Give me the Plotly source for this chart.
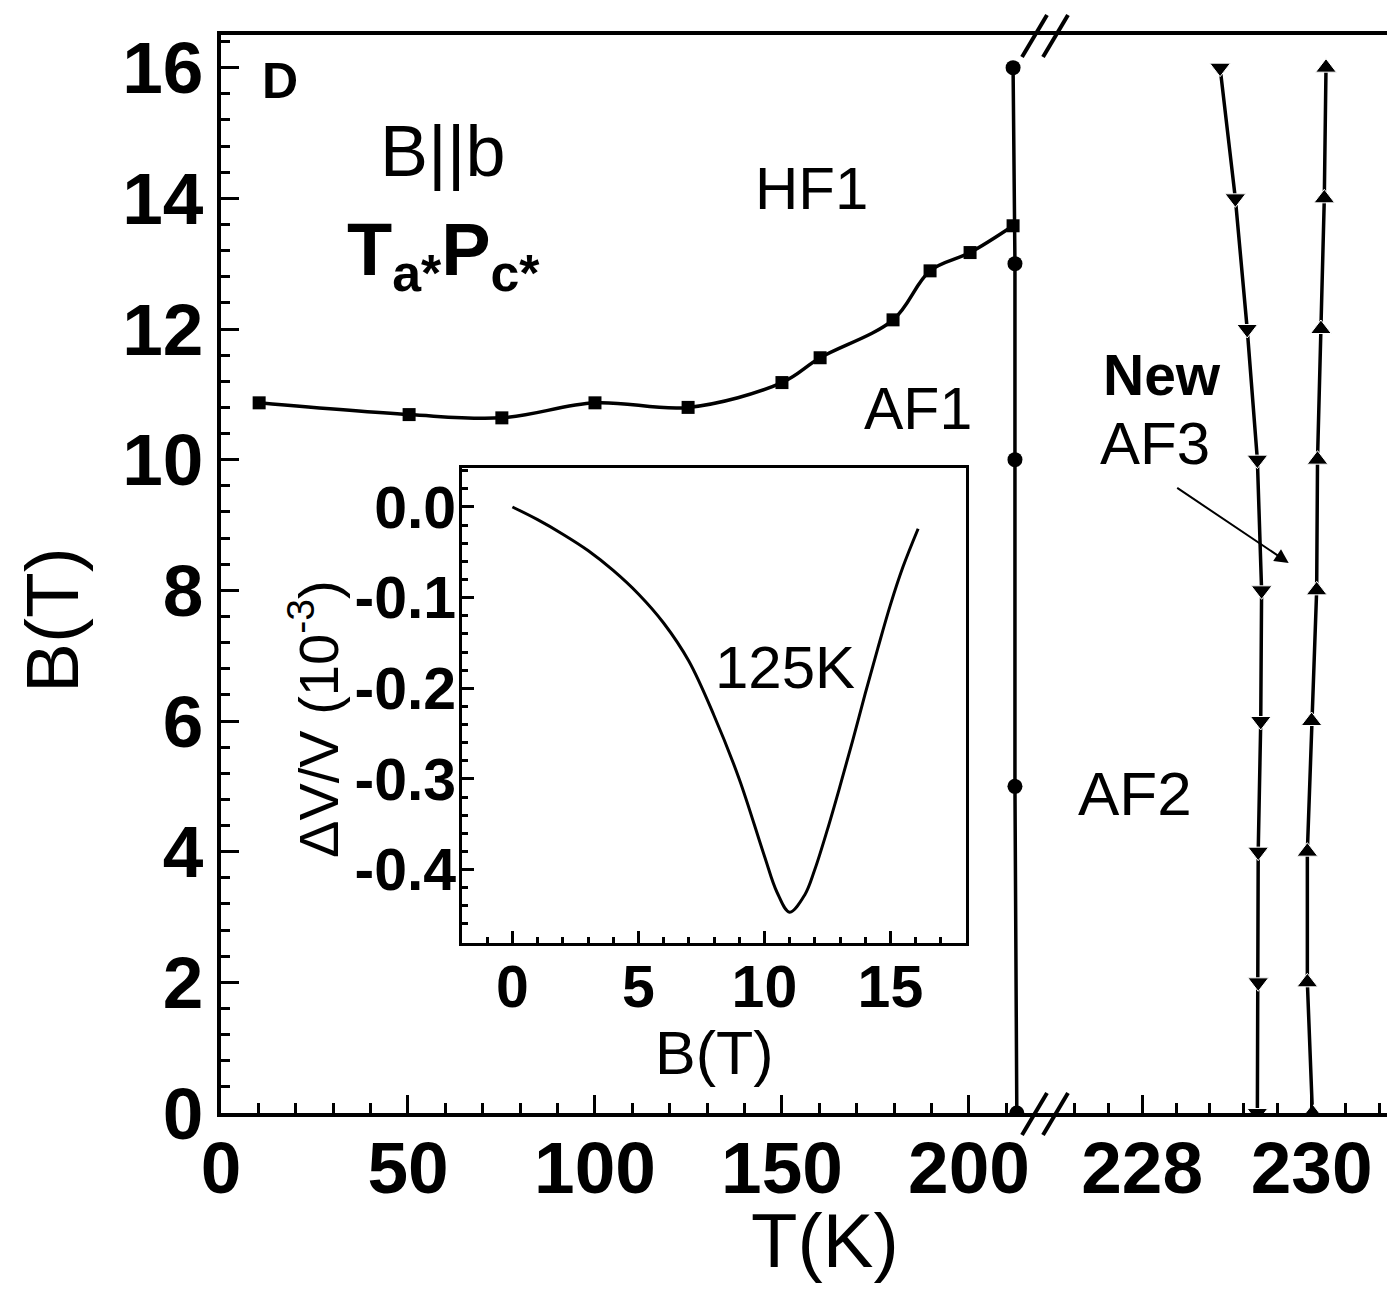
import plotly.graph_objects as go

# ---------------- data ----------------
# HF1 / AF1 boundary (squares)
sq_T = [10.2, 50.3, 75.1, 100.0, 124.9, 150.0, 160.2, 179.7, 189.6, 200.3, 211.8]
sq_B = [10.87, 10.69, 10.64, 10.87, 10.80, 11.18, 11.56, 12.14, 12.89, 13.17, 13.58]
# AF1 / AF2 boundary (circles)
ci_T = [212.8, 212.3, 212.3, 212.3, 211.8]
ci_B = [0, 5, 10, 13, 16]
# AF2 / AF3 boundary (down triangles)
dn_T = [229.36, 229.37, 229.37, 229.40, 229.41, 229.36, 229.24, 229.10, 228.92]
dn_B = [0, 2, 4, 6, 8, 10, 12, 14, 16]
# AF3 / paramagnetic boundary (up triangles)
up_T = [230.01, 229.95, 229.95, 230.00, 230.06, 230.07, 230.11, 230.15, 230.17]
up_B = [0, 2, 4, 6, 8, 10, 12, 14, 16]
# inset: dV/V at 125 K
in_B = [0, 1, 2, 3, 4, 5, 6, 7, 8, 9, 10, 10.5, 11.0, 11.6, 12.0, 12.5,
        13.0, 13.5, 14.0, 14.5, 15.0, 15.5, 16.1]
in_V = [0, -0.014, -0.030, -0.048, -0.070, -0.096, -0.128, -0.170, -0.230,
        -0.300, -0.385, -0.425, -0.447, -0.428, -0.400, -0.356, -0.308,
        -0.258, -0.206, -0.156, -0.108, -0.066, -0.024]

left_ticks = [0, 50, 100, 150, 200]
right_ticks = [228, 230]
y_ticks = [0, 2, 4, 6, 8, 10, 12, 14, 16]
inset_x_ticks = [0, 5, 10, 15]
inset_y_ticks = [0.0, -0.1, -0.2, -0.3, -0.4]
inset_y_labels = ["0.0", "-0.1", "-0.2", "-0.3", "-0.4"]

# ---------------- layout geometry (pixels) ----------------
W, H = 1387, 1291
L, R, T, B = 221, 1387, 35, 1113
PW, PH = R - L, B - T
BREAK = 1043


def px(x):
    return (x - L) / PW


def py(y):
    return (B - y) / PH


FONT = "Liberation Sans, Arial, sans-serif"
BLACK = "black"

fig = go.Figure()

fig.add_trace(go.Scatter(
    x=sq_T, y=sq_B, mode="lines+markers", xaxis="x", yaxis="y",
    line=dict(color=BLACK, width=3.5, shape="spline", smoothing=1.0),
    marker=dict(symbol="square", size=13, color=BLACK)))
fig.add_trace(go.Scatter(
    x=ci_T, y=ci_B, mode="lines+markers", xaxis="x", yaxis="y",
    line=dict(color=BLACK, width=3.5),
    marker=dict(symbol="circle", size=15, color=BLACK)))
fig.add_trace(go.Scatter(
    x=dn_T, y=dn_B, mode="lines+markers", xaxis="x2", yaxis="y",
    line=dict(color=BLACK, width=3.5),
    marker=dict(symbol="triangle-down", size=18, color=BLACK,
                line=dict(color="white", width=1))))
fig.add_trace(go.Scatter(
    x=up_T, y=up_B, mode="lines+markers", xaxis="x2", yaxis="y",
    line=dict(color=BLACK, width=3.5),
    marker=dict(symbol="triangle-up", size=18, color=BLACK,
                line=dict(color="white", width=1))))
fig.add_trace(go.Scatter(
    x=in_B, y=in_V, mode="lines", xaxis="x3", yaxis="y3",
    line=dict(color=BLACK, width=3, shape="spline", smoothing=1.0)))

tickfont_main = dict(size=73, family=FONT, color=BLACK, weight="bold")
tickfont_in = dict(size=59, family=FONT, color=BLACK, weight="bold")


def minor(d, ln):
    return dict(dtick=d, ticks="inside", ticklen=ln, tickwidth=3,
                tickcolor=BLACK, showgrid=False)


common = dict(showline=True, linewidth=4, linecolor=BLACK, ticks="inside",
              tickwidth=3, tickcolor=BLACK, showgrid=False, zeroline=False)

fig.update_layout(
    width=W, height=H,
    margin=dict(l=L, r=W - R, t=T, b=H - B),
    paper_bgcolor="white", plot_bgcolor="white",
    showlegend=False,
    xaxis=dict(domain=[0, px(BREAK)], range=[0, 219.8], anchor="y",
               mirror=True, ticklen=18, tickvals=left_ticks,
               minor=minor(10, 10), tickfont=tickfont_main,
               ticklabelstandoff=-12, **common),
    xaxis2=dict(domain=[px(BREAK), 1], range=[226.83, 230.89], anchor="y",
                mirror=True, ticklen=18, tickvals=right_ticks,
                minor=dict(tick0=228, **minor(0.4, 10)),
                tickfont=tickfont_main, ticklabelstandoff=-12, **common),
    yaxis=dict(domain=[0, 1], range=[0, 16.5], anchor="x",
               ticklen=18, tickvals=y_ticks, minor=minor(0.4, 9),
               tickfont=tickfont_main, ticklabelstandoff=-1, **common),
    xaxis3=dict(domain=[px(462), px(966)], range=[-2, 18], anchor="y3",
                mirror=True, ticklen=12, tickvals=inset_x_ticks,
                minor=minor(1, 6), tickfont=tickfont_in,
                ticklabelstandoff=-10,
                **{**common, "linewidth": 3}),
    yaxis3=dict(domain=[py(943), py(468)], range=[-0.481, 0.043],
                anchor="x3", mirror=True, ticklen=12,
                tickvals=inset_y_ticks, ticktext=inset_y_labels,
                minor=minor(0.02, 6), tickfont=tickfont_in,
                ticklabelstandoff=-9,
                **{**common, "linewidth": 3}),
)

# axis break marks
shapes = []
for yc in (B, T):
    for x0 in (1022, 1043):
        shapes.append(dict(type="line", xref="paper", yref="paper",
                           x0=px(x0), y0=py(yc + 22), x1=px(x0 + 25),
                           y1=py(yc - 20),
                           line=dict(color=BLACK, width=4)))
fig.update_layout(shapes=shapes)


def ann(text, x, y, xref, yref, size, bold=False, angle=0):
    return dict(text=text, x=x, y=y, xref=xref, yref=yref, showarrow=False,
                xanchor="center", yanchor="middle", textangle=angle,
                font=dict(size=size, family=FONT, color=BLACK,
                          weight="bold" if bold else "normal"))


annotations = [
    ann("D", 15.8, 15.80, "x", "y", 50, bold=True),
    ann("B||b", 59.1, 14.72, "x", "y", 72),
    ann("T<sub>a*</sub>P<sub>c*</sub>", 59.4, 13.14, "x", "y", 74, bold=True),
    ann("HF1", 158.0, 14.15, "x", "y", 60),
    ann("AF1", 186.4, 10.78, "x", "y", 59),
    ann("AF2", 227.92, 4.885, "x2", "y", 62),
    ann("New", 228.24, 11.29, "x2", "y", 57, bold=True),
    ann("AF3", 228.15, 10.24, "x2", "y", 60),
    ann("125K", 10.8, -0.1775, "x3", "y3", 60),
    ann("T(K)", px(825), py(1240), "paper", "paper", 76),
    ann("B(T)", px(52), py(620), "paper", "paper", 75, angle=-90),
    ann("B(T)", px(714), py(1053), "paper", "paper", 61),
    ann("ΔV/V (10<sup>-3</sup>)", px(314), py(719), "paper", "paper", 56,
        angle=-90),
    dict(text="", x=229.73, y=8.42, xref="x2", yref="y", showarrow=True,
         ax=-113, ay=-76, arrowhead=2, arrowsize=1.4, arrowwidth=2,
         arrowcolor=BLACK),
]
fig.update_layout(annotations=annotations)

fig.write_html("out.html")
